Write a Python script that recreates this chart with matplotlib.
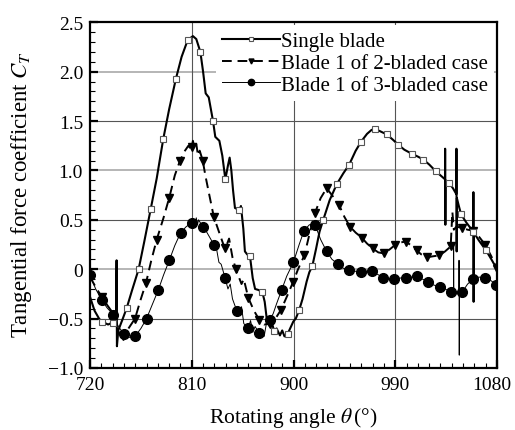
import numpy as np
import matplotlib
matplotlib.use("Agg")
import matplotlib.pyplot as plt
from matplotlib.ticker import MultipleLocator, FixedLocator, FixedFormatter
from matplotlib.transforms import ScaledTranslation

# ---------------- data ----------------
theta_single = [720, 724, 728, 730.3, 736, 740, 743, 743.5, 743.8, 745, 749, 752.4, 757, 763, 768,
                773.7, 779, 784.8, 790, 796, 801, 806.4, 811, 814, 817.6, 820, 822.3, 825, 828.8,
                830.8, 834.4, 837, 839.7, 842, 843.5, 845, 846.5, 848.2, 850, 852, 853.5, 855.6,
                857, 859, 861.5, 863.9, 866, 868.9, 872.4, 874.5, 876.3, 879, 881, 883, 885, 888,
                890, 892, 894.8, 897, 899.8, 902, 905.1, 908, 911.6, 914, 916.6, 920, 923, 926.3,
                932, 938.2, 944, 949.3, 955, 959.7, 965, 969, 972, 976, 982.4, 988, 992.7, 998,
                1004.4, 1010, 1014.8, 1020, 1026, 1032, 1034, 1034.1, 1034.3, 1034.5, 1037.8,
                1041, 1044, 1044.1, 1044.3, 1044.5, 1046, 1048.2, 1053, 1059, 1059.1, 1059.3,
                1059.5, 1064, 1070.3, 1075, 1080]
ct_single = [-0.28, -0.42, -0.50, -0.53, -0.56, -0.54, -0.50, 0.09, -0.78, -0.62, -0.50, -0.395, -0.22,
             0.0, 0.28, 0.61, 0.92, 1.32, 1.62, 1.93, 2.15, 2.32, 2.36, 2.33, 2.20, 2.00, 1.78, 1.74,
             1.50, 1.34, 1.30, 1.15, 0.91, 1.05, 1.13, 1.00, 0.80, 0.62, 0.61, 0.60, 0.64, 0.41,
             0.18, 0.15, 0.13, -0.09, -0.20, -0.21, -0.23, -0.33, -0.50, -0.58, -0.55, -0.63,
             -0.60, -0.67, -0.62, -0.68, -0.655, -0.60, -0.53, -0.50, -0.41, -0.30, -0.125, -0.03,
             0.03, 0.21, 0.38, 0.50, 0.70, 0.86, 0.97, 1.06, 1.20, 1.29, 1.37, 1.41, 1.42, 1.40,
             1.365, 1.31, 1.26, 1.21, 1.17, 1.14, 1.11, 1.06, 0.99, 0.93, 0.91, 1.22, 0.45, 0.90,
             0.87, 0.82, 0.76, 1.22, 0.18, 0.72, 0.65, 0.555, 0.47, 0.38, 0.78, -0.33, 0.37, 0.29,
             0.19, 0.10, 0.0]
marks_single = [730.3, 740, 752.4, 763, 773.7, 784.8, 796, 806.4, 817.6, 828.8, 839.7, 852, 861.5,
                872.4, 883, 894.8, 905.1, 916.6, 926.3, 938.2, 949.3, 959.7, 972, 982.4, 992.7,
                1004.4, 1014.8, 1026, 1037.8, 1048.2, 1059, 1070.3]

theta_two = [720, 725, 730.3, 735, 740.6, 745, 749.4, 754, 759.8, 765, 769.5, 774, 779, 785, 790.1,
             795, 799.6, 804, 807, 809, 810, 811, 812.5, 814, 815.5, 817, 819.7, 822, 825, 829.5,
             834, 839.2, 841, 843, 846, 849, 854, 856, 860, 865, 869.6, 874, 879.5, 884, 889, 894,
             899.8, 904, 909.6, 914, 919, 924, 929.3, 934, 940.3, 945, 950, 955, 960.3, 965, 970,
             975, 980, 985, 989.8, 994, 999.5, 1004, 1008.9, 1013, 1017.7, 1023, 1029, 1034, 1039,
             1040.5, 1041.8, 1044, 1048.7, 1054, 1059, 1064, 1069.4, 1075, 1080]
ct_two = [-0.08, -0.18, -0.28, -0.36, -0.45, -0.60, -0.68, -0.60, -0.50, -0.30, -0.14, 0.08, 0.30,
          0.52, 0.725, 0.95, 1.10, 1.20, 1.25, 1.22, 1.24, 1.30, 1.22, 1.27, 1.15, 1.20, 1.10, 0.95,
          0.78, 0.53, 0.38, 0.21, 0.25, 0.31, 0.12, 0.0, -0.15, -0.10, -0.29, -0.42, -0.51, -0.56,
          -0.55, -0.50, -0.41, -0.28, -0.125, 0.0, 0.14, 0.35, 0.57, 0.72, 0.82, 0.75, 0.65, 0.53,
          0.43, 0.37, 0.32, 0.26, 0.21, 0.17, 0.16, 0.20, 0.245, 0.27, 0.28, 0.24, 0.19, 0.15, 0.12,
          0.13, 0.14, 0.18, 0.23, 0.58, 0.40, 0.43, 0.42, 0.40, 0.39, 0.33, 0.25, 0.13, 0.0]
marks_two = [730.3, 749.4, 759.8, 769.5, 779, 790.1, 799.6, 810, 819.7, 829.5, 839.2, 849, 860,
             869.6, 879.5, 889, 899.8, 909.6, 919, 929.3, 940.3, 950, 960.3, 970, 980, 989.8, 999.5,
             1008.9, 1017.7, 1029, 1039, 1048.7, 1059, 1069.4, 1080]

theta_three = [720, 725, 730.3, 735, 740.6, 745, 750.4, 755, 759.8, 765, 770, 775, 780.4, 785, 790.1,
               795, 800.2, 805, 810, 812, 813, 814, 815, 816, 819.7, 823, 826, 829.7, 832, 834, 836,
               839.4, 842, 844, 846, 849.8, 852, 854, 856, 859.8, 862, 864, 866, 869.8, 872, 874,
               876, 879.2, 882, 885, 889.5, 894, 899.9, 905, 909.3, 914, 919, 924, 929.3, 934, 939.6,
               944, 949.3, 954, 959.4, 964, 969.1, 974, 979.4, 984, 989.2, 994, 999.5, 1004, 1008.9,
               1014, 1019.2, 1024, 1029.6, 1034, 1039, 1041.5, 1041.6, 1041.8, 1044, 1046.3, 1046.4,
               1046.6, 1046.8, 1049.3, 1054, 1059, 1064, 1069.4, 1074, 1079, 1080]
ct_three = [-0.06, -0.20, -0.31, -0.39, -0.46, -0.58, -0.66, -0.69, -0.68, -0.60, -0.50, -0.36, -0.21,
            -0.06, 0.09, 0.24, 0.37, 0.43, 0.47, 0.50, 0.44, 0.52, 0.45, 0.50, 0.43, 0.38, 0.32, 0.245,
            0.20, 0.07, 0.05, -0.085, -0.20, -0.15, -0.30, -0.42, -0.45, -0.38, -0.55, -0.60, -0.52,
            -0.64, -0.58, -0.65, -0.62, -0.68, -0.55, -0.51, -0.45, -0.35, -0.21, -0.07, 0.07, 0.25,
            0.39, 0.45, 0.45, 0.30, 0.18, 0.10, 0.05, 0.01, -0.01, -0.02, -0.025, -0.02, -0.02, -0.05,
            -0.085, -0.10, -0.10, -0.09, -0.085, -0.08, -0.07, -0.10, -0.13, -0.16, -0.18, -0.20,
            -0.23, -0.23, 0.25, -0.23, -0.25, -0.25, 0.09, -0.87, -0.25, -0.23, -0.15, -0.10, -0.08,
            -0.085, -0.11, -0.155, -0.16]
marks_three = [720, 730.3, 740.6, 750.4, 759.8, 770, 780.4, 790.1, 800.2, 810, 819.7, 829.7, 839.4,
               849.8, 859.8, 869.8, 879.2, 889.5, 899.9, 909.3, 919, 929.3, 939.6, 949.3, 959.4,
               969.1, 979.4, 989.2, 999.5, 1008.9, 1019.2, 1029.6, 1039, 1049.3, 1059, 1069.4, 1079]

labels = ["Single blade", "Blade 1 of 2-bladed case", "Blade 1 of 3-bladed case"]
x_ticks = [720, 810, 900, 990, 1080]
y_ticks = [-1.0, -0.5, 0.0, 0.5, 1.0, 1.5, 2.0, 2.5]
y_tick_labels = ["\u22121.0", "\u22120.5", "0", "0.5", "1.0", "1.5", "2.0", "2.5"]

# ---------------- figure ----------------
plt.rcParams['font.family'] = ['Liberation Serif', 'DejaVu Serif']
plt.rcParams['mathtext.fontset'] = 'stix'

fig = plt.figure(figsize=(5.15, 4.31), dpi=100)
ax = fig.add_axes([0.1748, 0.1439, 0.7903, 0.8021])


def idx(theta, marks):
    th = np.asarray(theta)
    return [int(np.argmin(np.abs(th - m))) for m in marks]


ax.plot(theta_single, ct_single, color='black', lw=1.5, marker='s', markersize=5,
        markerfacecolor='white', markeredgecolor='#555555', markeredgewidth=0.8,
        markevery=idx(theta_single, marks_single), label=labels[0], zorder=4)
ax.plot(theta_two, ct_two, color='black', lw=1.4, dashes=(5, 3), marker='v', markersize=5.5,
        markerfacecolor='black', markeredgecolor='black',
        markevery=idx(theta_two, marks_two), label=labels[1], zorder=3)
ax.plot(theta_three, ct_three, color='black', lw=0.7, marker='o', markersize=7,
        markerfacecolor='black', markeredgecolor='black',
        markevery=idx(theta_three, marks_three), label=labels[2], zorder=3)

# grid lines
for yv in [-0.5, 0.5, 1.5]:
    ax.axhline(yv, color='#555555', lw=0.8, zorder=1)
for yv in [0.0, 1.0, 2.0]:
    ax.axhline(yv, color='#b0b0b0', lw=1.3, zorder=1)
for xv in [810, 900, 990]:
    ax.axvline(xv, color='#555555', lw=0.8, zorder=1)

ax.set_xlim(720, 1080)
ax.set_ylim(-1.0, 2.5)
ax.xaxis.set_major_locator(FixedLocator(x_ticks))
ax.xaxis.set_minor_locator(MultipleLocator(10))
ax.yaxis.set_major_locator(FixedLocator(y_ticks))
ax.yaxis.set_major_formatter(FixedFormatter(y_tick_labels))
ax.yaxis.set_minor_locator(MultipleLocator(0.1))
ax.tick_params(which='both', direction='in', top=False, right=False, labelsize=14)
ax.tick_params(which='major', length=6, width=1.6)
ax.tick_params(which='minor', length=3.5, width=0.8)
ax.tick_params(axis='x', which='major', pad=6)
ax.tick_params(axis='y', which='major', pad=5)
for s in ax.spines.values():
    s.set_linewidth(1.6)

# shift the last x tick label slightly left so it stays inside the figure
fig.canvas.draw()
xlabs = ax.get_xticklabels()
xlabs[-1].set_transform(xlabs[-1].get_transform() + ScaledTranslation(-5 / 100, 0, fig.dpi_scale_trans))

ax.set_xlabel(r"Rotating angle $\theta\,$(°)", fontsize=15.5)
ax.xaxis.set_label_coords(0.5, -0.108)
ax.set_ylabel(r"Tangential force coefficient $C_T$", fontsize=16.5)
ax.yaxis.set_label_coords(-0.137, 0.505)

leg = ax.legend(loc='upper right', fontsize=15, frameon=True, framealpha=1, facecolor='white',
                edgecolor='none', handlelength=2.75, handletextpad=0.05, labelspacing=0.1,
                borderpad=0.3, borderaxespad=0.15, fancybox=False, markerscale=0.65)
leg.set_zorder(6)

fig.savefig("out.png", dpi=100)
